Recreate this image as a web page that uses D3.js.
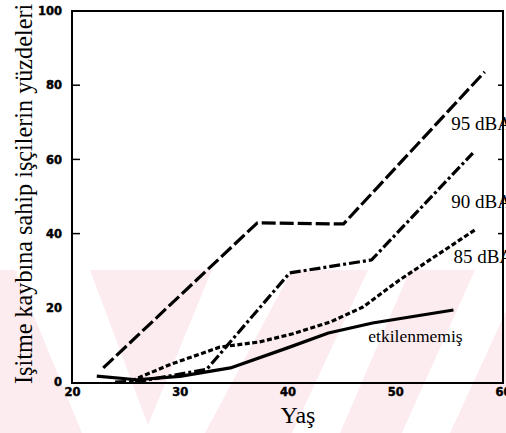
<!DOCTYPE html>
<html>
<head>
<meta charset="utf-8">
<script src="https://cdnjs.cloudflare.com/ajax/libs/d3/7.8.5/d3.min.js"></script>
</head>
<body style="margin:0;background:#fff">
<svg style="display:block"></svg>
<script>
// values (age, percent)
var xTicks = [20, 30, 40, 50, 60];
var yTicks = [0, 20, 40, 60, 80, 100];

var ages95 = [22.9, 37.2, 45.2, 58.3];
var vals95 = [3.8, 42.9, 42.6, 83.6];

var ages90 = [24, 26.3, 32.5, 40.2, 47.8, 57.2];
var vals90 = [0, 0.2, 3.4, 29.4, 32.9, 61.7];

var ages85 = [25.5, 29, 33.7, 37.4, 40.5, 44, 47, 50.4, 57.4];
var vals85 = [0.3, 4.6, 9.4, 10.8, 13.0, 16.2, 20.2, 27.5, 41];

var agesEtk = [22.3, 26, 30, 34.7, 40, 43.8, 47.9, 55.4];
var valsEtk = [1.6, 0.6, 1.5, 3.8, 9.2, 13.2, 15.9, 19.4];

var names = ["95 dBA", "90 dBA", "85 dBA", "etkilenmemiş"];

var screen = {width: 506, height: 433};
var serif = "'Liberation Serif', Tinos, 'Times New Roman', serif";
var tickFont = "'DejaVu Sans', sans-serif";

var xScale = d3.scaleLinear().domain([20, 60]).range([72, 503]);
var yScale = d3.scaleLinear().domain([0, 100]).range([382, 11]);

var series = [
    {name: names[0], ages: ages95, vals: vals95},
    {name: names[1], ages: ages90, vals: vals90},
    {name: names[2], ages: ages85, vals: vals85},
    {name: names[3], ages: agesEtk, vals: valsEtk}
];

// styles, kept apart from the values
var dashes = ["14,4", "11,3,3,3", "5,2.5", null];
var labelAt = [[55.2, 68], [55.2, 47], [55.4, 32.2], [47.5, 10.8]];

var svg = d3.select("svg")
    .attr("width", screen.width)
    .attr("height", screen.height);

// faint pink stamp behind the lower part of the scan
var drawWatermark = function(){
    var g = svg.append("g").attr("id", "mark");
    g.append("rect")
        .attr("x", 0).attr("y", 270)
        .attr("width", screen.width).attr("height", screen.height - 270)
        .attr("fill", "#fdecef");
    var bands = [
        [[15, 270], [90, 270], [148, 425], [212, 270], [292, 270], [205, 433], [82, 433]],
        [[368, 270], [410, 270], [340, 433], [292, 433]],
        [[475, 270], [525, 270], [450, 433], [402, 433]]
    ];
    g.selectAll("polygon")
        .data(bands)
        .enter()
        .append("polygon")
        .attr("points", function(b){ return b.join(" "); })
        .attr("fill", "#fff");
};

var styleTicks = function(g){
    g.select(".domain").remove();
    g.selectAll("text")
        .attr("fill", "#000")
        .attr("stroke", "#000")
        .attr("stroke-width", 0.45)
        .style("font-family", tickFont)
        .style("font-weight", "bold")
        .style("font-size", "11.5px");
};

var drawAxes = function(){
    var yAxis = d3.axisLeft(yScale)
        .tickValues(yTicks)
        .tickSize(0)
        .tickPadding(10);
    svg.append("g")
        .attr("transform", "translate(" + xScale(20) + ",0)")
        .call(yAxis)
        .call(styleTicks);

    var xAxis = d3.axisBottom(xScale)
        .tickValues(xTicks)
        .tickSize(0)
        .tickPadding(6);
    svg.append("g")
        .attr("transform", "translate(0," + yScale(0) + ")")
        .call(xAxis)
        .call(styleTicks);

    // inward ticks
    svg.append("g")
        .selectAll("line")
        .data(yTicks.filter(function(v){ return v > 0 && v < 100; }))
        .enter()
        .append("line")
        .attr("x1", xScale(20))
        .attr("x2", function(v){ return xScale(20) + (v == 20 ? 0 : 8); })
        .attr("y1", function(v){ return yScale(v); })
        .attr("y2", function(v){ return yScale(v); })
        .attr("stroke", "#000")
        .attr("stroke-width", 1.5);

    svg.append("g")
        .selectAll("line")
        .data(yTicks.filter(function(v){ return v >= 40 && v < 100; }))
        .enter()
        .append("line")
        .attr("x1", xScale(60))
        .attr("x2", xScale(60) - 5)
        .attr("y1", function(v){ return yScale(v); })
        .attr("y2", function(v){ return yScale(v); })
        .attr("stroke", "#000")
        .attr("stroke-width", 1.5);

    svg.append("text")
        .attr("transform", "translate(32," + (yScale(0) + 2) + ") rotate(-90)")
        .attr("fill", "#000")
        .style("font-family", serif)
        .style("font-size", "24.2px")
        .text("Işitme kaybına sahip işçilerin yüzdeleri");

    svg.append("text")
        .attr("x", 298)
        .attr("y", 423)
        .attr("text-anchor", "middle")
        .attr("fill", "#000")
        .style("font-family", serif)
        .style("font-size", "24px")
        .text("Yaş");
};

var drawLines = function(){
    var line = d3.line()
        .x(function(p){ return xScale(p[0]); })
        .y(function(p){ return yScale(p[1]); });

    svg.append("g")
        .attr("id", "lines")
        .selectAll("path")
        .data(series)
        .enter()
        .append("path")
        .attr("fill", "none")
        .attr("stroke", "#000")
        .attr("stroke-width", 3.2)
        .attr("stroke-linejoin", "round")
        .attr("stroke-dasharray", function(s, i){ return dashes[i]; })
        .attr("d", function(s){
            return line(s.ages.map(function(a, j){ return [a, s.vals[j]]; }));
        });

    svg.append("g")
        .selectAll("text")
        .data(series)
        .enter()
        .append("text")
        .attr("x", function(s, i){ return xScale(labelAt[i][0]); })
        .attr("y", function(s, i){ return yScale(labelAt[i][1]); })
        .attr("fill", "#000")
        .style("font-family", serif)
        .style("font-size", function(s, i){ return i == 3 ? "17.5px" : "19px"; })
        .text(function(s){ return s.name; });
};

var drawFrame = function(){
    svg.append("rect")
        .attr("x", xScale(20))
        .attr("y", yScale(100))
        .attr("width", xScale(60) - xScale(20))
        .attr("height", yScale(0) - yScale(100) + 1)
        .attr("fill", "none")
        .attr("stroke", "#000")
        .attr("stroke-width", 2);
};

drawWatermark();
drawAxes();
drawLines();
drawFrame();
</script>
</body>
</html>
